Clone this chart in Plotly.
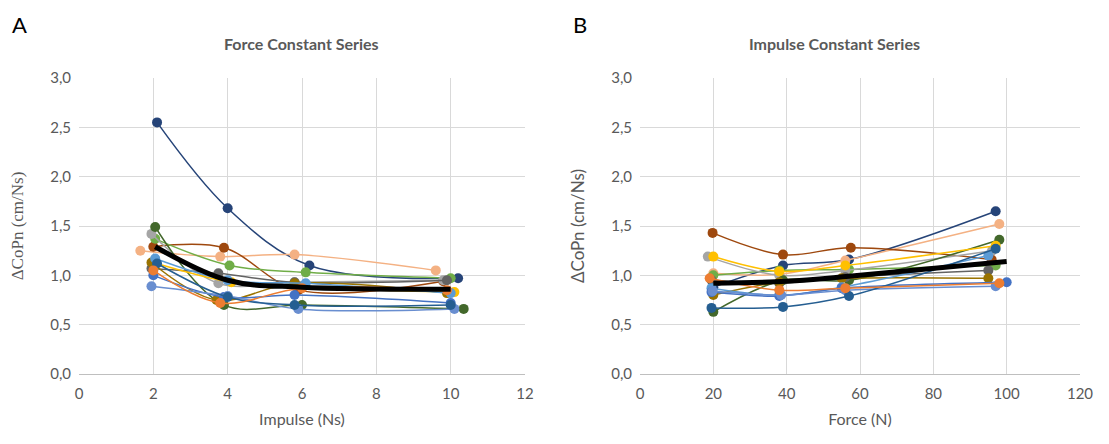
import plotly.graph_objects as go

# ---- Panel A: Force Constant Series (x = Impulse, Ns) ----
colors = ["#264478", "#F4B183", "#9E480E", "#70AD47", "#A5A5A5", "#43682B", "#636363",
          "#FFC000", "#997300", "#5B9BD5", "#4472C4", "#698ED0", "#255E91", "#ED7D31"]

a_x = [
    [2.1, 4.0, 6.2, 10.2],
    [1.65, 3.8, 5.8, 9.6],
    [2.0, 3.9, 5.9, 9.8],
    [2.05, 4.05, 6.1, 10.0],
    [1.95, 3.75, 5.8, 9.8],
    [2.05, 3.9, 6.0, 10.35],
    [1.95, 3.75, 5.8, 9.9],
    [2.0, 4.1, 6.0, 10.1],
    [1.95, 3.7, 5.8, 9.9],
    [2.05, 4.0, 6.1, 10.0],
    [2.0, 3.9, 5.8, 10.0],
    [1.95, 4.0, 5.9, 10.1],
    [2.1, 4.0, 5.8, 10.0],
    [2.0, 3.8, 6.0, 9.9],
]
a_y = [
    [2.55, 1.68, 1.10, 0.97],
    [1.25, 1.19, 1.21, 1.05],
    [1.29, 1.28, 0.85, 0.94],
    [1.37, 1.10, 1.03, 0.97],
    [1.42, 0.92, 0.93, 0.95],
    [1.49, 0.70, 0.70, 0.66],
    [1.07, 1.02, 0.93, 0.95],
    [1.13, 0.93, 0.88, 0.83],
    [1.13, 0.75, 0.92, 0.82],
    [1.17, 0.95, 0.92, 0.82],
    [1.00, 0.78, 0.80, 0.72],
    [0.89, 0.79, 0.66, 0.66],
    [1.12, 0.78, 0.70, 0.70],
    [1.05, 0.72, 0.87, 0.85],
]
a_mean_x = [2.05, 4.0, 6.0, 10.0]
a_mean_y = [1.29, 0.95, 0.88, 0.86]

# ---- Panel B: Impulse Constant Series (x = Force, N) ----
b_x = [
    [20, 39, 57, 97],
    [20, 38, 56, 98],
    [19.8, 39, 57.5, 95.9],
    [20, 38, 57, 97],
    [18.5, 38, 56, 96],
    [20, 39, 57, 98],
    [19.5, 38, 56, 95],
    [20, 38, 56, 97],
    [20, 38, 55, 95],
    [19.5, 38, 55, 95],
    [19.5, 38, 55, 100],
    [19.8, 38.5, 56, 97],
    [19.5, 39, 57, 97],
    [19, 38, 56, 98],
]
b_y = [
    [0.88, 1.10, 1.16, 1.65],
    [1.02, 1.01, 1.15, 1.52],
    [1.43, 1.21, 1.28, 1.16],
    [1.00, 1.05, 1.06, 1.10],
    [1.19, 1.00, 1.05, 1.25],
    [0.63, 0.95, 0.95, 1.36],
    [0.95, 0.92, 0.98, 1.05],
    [1.19, 1.04, 1.10, 1.30],
    [0.80, 0.93, 0.97, 0.97],
    [0.87, 0.80, 0.88, 1.20],
    [0.83, 0.79, 0.87, 0.93],
    [0.84, 0.80, 0.85, 0.89],
    [0.67, 0.68, 0.79, 1.27],
    [0.97, 0.85, 0.87, 0.92],
]
b_mean_x = [20, 40, 57, 100]
b_mean_y = [0.92, 0.94, 0.99, 1.14]

fig = go.Figure()

def add_panel(xs, ys, mx, my, xa, ya):
    for i, (x, y) in enumerate(zip(xs, ys)):
        fig.add_trace(go.Scatter(x=x, y=y, mode="lines+markers", xaxis=xa, yaxis=ya,
                                 line=dict(color=colors[i], width=1.5, shape="spline", smoothing=1.0),
                                 marker=dict(color=colors[i], size=10), showlegend=False,
                                 hoverinfo="skip"))
    fig.add_trace(go.Scatter(x=mx, y=my, mode="lines", xaxis=xa, yaxis=ya,
                             line=dict(color="black", width=5, shape="spline", smoothing=1.0),
                             showlegend=False))

add_panel(a_x, a_y, a_mean_x, a_mean_y, "x", "y")
add_panel(b_x, b_y, b_mean_x, b_mean_y, "x2", "y2")

font_sans = "Lato, 'Open Sans', sans-serif"
tick_font = dict(family=font_sans, size=15, color="#595959")
grid = "#D9D9D9"
clear = "rgba(0,0,0,0)"

common_x = dict(showgrid=True, gridcolor=grid, gridwidth=1, zeroline=False, showline=True,
                linecolor="#BFBFBF", linewidth=1, ticks="outside", ticklen=6, tickcolor=clear,
                tickfont=tick_font, automargin=False)
common_y = dict(range=[0, 3.0], dtick=0.5, tickformat=".1f", showgrid=True, gridcolor=grid,
                gridwidth=1, zeroline=False, showline=False, ticks="outside", ticklen=4,
                tickcolor=clear, tickfont=tick_font, automargin=False)

# page has an 8 px body offset; positions below are in page pixels
OFF = 8
L, R, T, B = 79 - OFF, 29 + OFF, 78 - OFF, 70 + OFF
PW, PH = 1109 - L - R, 444 - T - B

def px(x):
    return (x - OFF - L) / PW

def py(y):
    return (444 - B - (y - OFF)) / PH

fig.update_layout(
    width=1109, height=444,
    margin=dict(l=L, r=R, t=T, b=B),
    paper_bgcolor="white", plot_bgcolor="white",
    separators=",.",
    xaxis=dict(domain=[0, px(525)], range=[0, 12], dtick=2,
               title=dict(text="Impulse (Ns)", font=dict(family=font_sans, size=16, color="#595959"), standoff=12),
               anchor="y", **common_x),
    yaxis=dict(domain=[0, 1], anchor="x",
               title=dict(text="ΔCoPn (cm/Ns)", font=dict(family="Liberation Serif, serif", size=17, color="#595959"), standoff=22),
               **common_y),
    xaxis2=dict(domain=[px(640), 1], range=[0, 120], dtick=20,
                title=dict(text="Force (N)", font=dict(family=font_sans, size=16, color="#595959"), standoff=12),
                anchor="y2", **common_x),
    yaxis2=dict(domain=[0, 1], anchor="x2",
                title=dict(text="ΔCoPn (cm/Ns)", font=dict(family=font_sans, size=17, color="#595959"), standoff=22),
                **common_y),
    annotations=[
        dict(text="A", x=px(10), y=py(9), xref="paper", yref="paper", showarrow=False,
             xanchor="left", yanchor="top", font=dict(family=font_sans, size=22, color="black")),
        dict(text="B", x=px(571), y=py(9), xref="paper", yref="paper", showarrow=False,
             xanchor="left", yanchor="top", font=dict(family=font_sans, size=22, color="black")),
        dict(text="<b>Force Constant Series</b>", x=px(301), y=py(44), xref="paper", yref="paper",
             showarrow=False, xanchor="center", yanchor="middle",
             font=dict(family=font_sans, size=16, color="#595959")),
        dict(text="<b>Impulse Constant Series</b>", x=px(834), y=py(44), xref="paper", yref="paper",
             showarrow=False, xanchor="center", yanchor="middle",
             font=dict(family=font_sans, size=16, color="#595959")),
    ],
)

fig.write_html("out.html")
